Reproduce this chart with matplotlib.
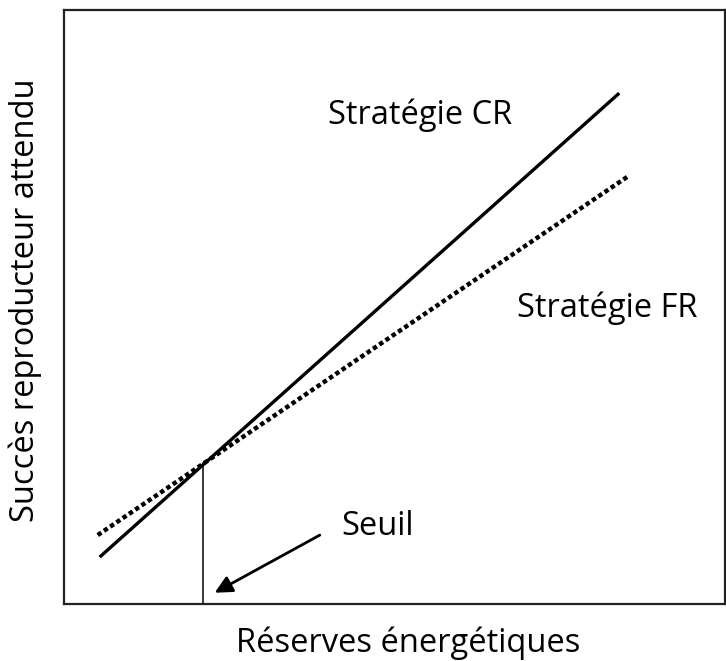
import matplotlib.pyplot as plt

# Schematic values (arbitrary units, axes 0-100)
cr_x = [5.4, 84.0]
cr_y = [7.9, 86.0]
fr_x = [5.1, 85.2]
fr_y = [11.6, 71.9]
seuil_x = 21.1
seuil_y = 23.7
arrow_tail = (38.7, 11.6)
arrow_head = (22.8, 1.9)

plt.rcParams["font.family"] = ["Open Sans", "DejaVu Sans"]

fig = plt.figure(figsize=(7.26, 6.61), dpi=100)
ax = fig.add_axes([64 / 726, 57 / 661, 661 / 726, 594 / 661])
ax.set_xlim(0, 100)
ax.set_ylim(0, 100)

# Strategy lines
ax.plot(cr_x, cr_y, color="black", lw=2.4, solid_capstyle="butt")
ax.plot(fr_x, fr_y, color="black", lw=3.2, linestyle=(0, (1, 0.7)),
        dash_capstyle="butt")

# Threshold marker
ax.plot([seuil_x, seuil_x], [0, seuil_y], color="black", lw=1.1)
ax.annotate("", xy=arrow_head, xytext=arrow_tail,
            arrowprops=dict(arrowstyle="-|>", color="black", lw=2,
                            mutation_scale=26, shrinkA=0, shrinkB=0))

ax.text(53.9, 82.3, "Stratégie CR", fontsize=23.5, ha="center", va="center")
ax.text(68.6, 49.8, "Stratégie FR", fontsize=23.5, ha="left", va="center")
ax.text(42, 13.0, "Seuil", fontsize=23.5, ha="left", va="center")

ax.set_xticks([])
ax.set_yticks([])
for s in ax.spines.values():
    s.set_linewidth(1.6)
    s.set_color("#222222")

fig.text(408 / 726, 1 - 643 / 661, "Réserves énergétiques", fontsize=23.5,
         ha="center", va="center")
fig.text(25 / 726, 1 - 300 / 661, "Succès reproducteur attendu", fontsize=23.5,
         ha="center", va="center", rotation=90)

fig.savefig("out.png", dpi=100, facecolor="white")
